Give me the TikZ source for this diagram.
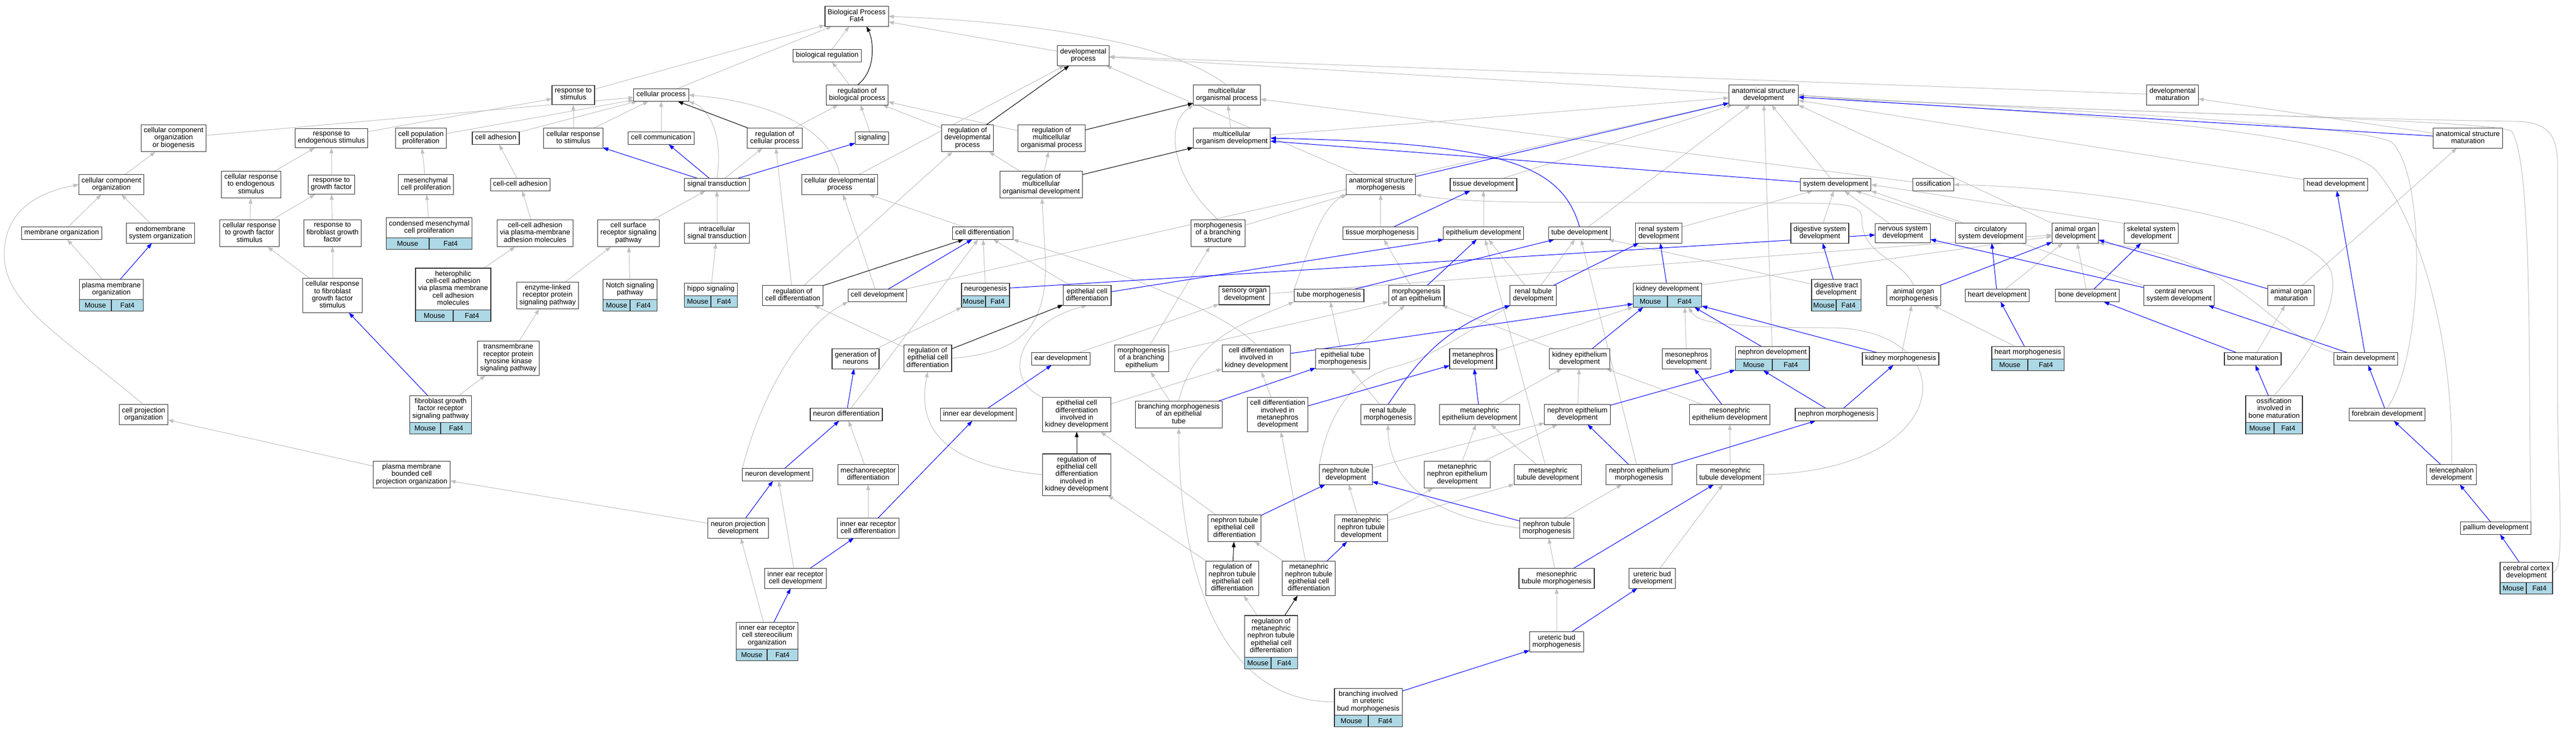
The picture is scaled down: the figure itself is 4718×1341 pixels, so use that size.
\documentclass[tikz,border=0pt]{standalone}
\usepackage{fontspec}
\setmainfont{Liberation Sans}
\usetikzlibrary{arrows.meta,backgrounds,calc}
\definecolor{edgegray}{HTML}{C0C0C0}
\definecolor{rowblue}{HTML}{ADD8E6}
\tikzset{
  term/.style={draw=black!80, line width=1.2pt, fill=white, align=center, inner xsep=5pt, inner ysep=4.8pt, outer sep=0pt,
    font=\fontsize{13}{13.3}\selectfont, execute at begin node=\strut, execute at end node=\strut},
  generow/.style={draw=black!80, line width=1.2pt, fill=rowblue, inner sep=0pt, outer sep=0pt, minimum height=21pt,
    font=\fontsize{13}{13.3}\selectfont},
  isa/.style={draw=edgegray, line width=1pt, -{Triangle[length=10pt,width=7pt]}},
  partof/.style={draw=blue, line width=1pt, -{Triangle[length=10pt,width=7pt]}},
  regs/.style={draw=black, line width=1pt, -{Triangle[length=10pt,width=7pt]}}
}
\newcommand{\generow}[1]{%
  \path let \p1=(#1.south west), \p2=(#1.south east), \n1={(\x2-\x1)/2} in
    node[generow, minimum width=\n1, anchor=north west] (#1-m) at (#1.south west) {Mouse}
    node[generow, minimum width=\n1, anchor=north east] (#1-f) at (#1.south east) {Fat4};}

\begin{document}
\begin{tikzpicture}[x=1pt,y=-1pt]
\useasboundingbox (0,0) rectangle (4718,1341);

\node[term] (bp) at (1569,30) {Biological Process\\Fat4};
\node[term] (bioreg) at (1515,102) {biological regulation};
\node[term] (devproc) at (1984,102) {developmental\\process};
\node[term] (respstim) at (1050,174) {response to\\stimulus};
\node[term] (cellproc) at (1211,174) {cellular process};
\node[term] (regbio) at (1570,174) {regulation of\\biological process};
\node[term] (multiproc) at (2247,174) {multicellular\\organismal process};
\node[term] (asdev) at (3230,174) {anatomical structure\\development};
\node[term] (devmat) at (3979,174) {developmental\\maturation};

\node[term] (ccob) at (318,253) {cellular component\\organization\\or biogenesis};
\node[term] (respendo) at (607,253) {response to\\endogenous stimulus};
\node[term] (cellpop) at (771,253) {cell population\\proliferation};
\node[term] (celladh) at (908,253) {cell adhesion};
\node[term] (cellresp) at (1050,253) {cellular response\\to stimulus};
\node[term] (cellcomm) at (1211,253) {cell communication};
\node[term] (regcell) at (1419,253) {regulation of\\cellular process};
\node[term] (signaling) at (1597,253) {signaling};
\node[term] (regdev) at (1772,253) {regulation of\\developmental\\process};
\node[term] (regmulti) at (1926,253) {regulation of\\multicellular\\organismal process};
\node[term] (modev) at (2256,253) {multicellular\\organism development};
\node[term] (asmat) at (4520,253) {anatomical structure\\maturation};

\node[term] (cco) at (204,338) {cellular component\\organization};
\node[term] (crendo) at (460,338) {cellular response\\to endogenous\\stimulus};
\node[term] (respgf) at (607,338) {response to\\growth factor};
\node[term] (mesprol) at (780,338) {mesenchymal\\cell proliferation};
\node[term] (ccadh) at (953,338) {cell-cell adhesion};
\node[term] (sigtrans) at (1313,338) {signal transduction};
\node[term] (celldevproc) at (1538,338) {cellular developmental\\process};
\node[term] (regmodev) at (1907,338) {regulation of\\multicellular\\organismal development};
\node[term] (asmorph) at (2529,338) {anatomical structure\\morphogenesis};
\node[term] (tissdev) at (2717,338) {tissue development};
\node[term] (sysdev) at (3362,338) {system development};
\node[term] (ossif) at (3541,338) {ossification};
\node[term] (headdev) at (4278,338) {head development};

\node[term] (memorg) at (113,427) {membrane organization};
\node[term] (endoorg) at (294,427) {endomembrane\\system organization};
\node[term] (crgf) at (457,427) {cellular response\\to growth factor\\stimulus};
\node[term] (respfgf) at (609,427) {response to\\fibroblast growth\\factor};
\node[term] (condmes) at (786,417) {condensed mesenchymal\\cell proliferation}; \generow{condmes}
\node[term] (ccadhpm) at (980,427) {cell-cell adhesion\\via plasma-membrane\\adhesion molecules};
\node[term] (csrsp) at (1151,427) {cell surface\\receptor signaling\\pathway};
\node[term] (intrasig) at (1313,427) {intracellular\\signal transduction};
\node[term] (celldiff) at (1800,427) {cell differentiation};
\node[term] (morphbranch) at (2231,427) {morphogenesis\\of a branching\\structure};
\node[term] (tissmorph) at (2528,427) {tissue morphogenesis};
\node[term] (epidev) at (2717,427) {epithelium development};
\node[term] (tubedev) at (2893,427) {tube development};
\node[term] (renalsys) at (3038,427) {renal system\\development};
\node[term] (digsys) at (3333,427) {digestive system\\development};
\node[term] (nervsys) at (3485,427) {nervous system\\development};
\node[term] (circsys) at (3646,427) {circulatory\\system development};
\node[term] (organdev) at (3801,427) {animal organ\\development};
\node[term] (skeldev) at (3940,427) {skeletal system\\development};

\node[term] (pmorg) at (204,530) {plasma membrane\\organization}; \generow{pmorg}
\node[term] (crfgf) at (609,541) {cellular response\\to fibroblast\\growth factor\\stimulus};
\node[term] (hetero) at (830,529) {heterophilic\\cell-cell adhesion\\via plasma membrane\\cell adhesion\\molecules}; \generow{hetero}
\node[term] (enzyme) at (1003,541) {enzyme-linked\\receptor protein\\signaling pathway};
\node[term] (notch) at (1154,530) {Notch signaling\\pathway}; \generow{notch}
\node[term] (hippo) at (1302,530) {hippo signaling}; \generow{hippo}
\node[term] (regcelldiff) at (1452,541) {regulation of\\cell differentiation};
\node[term] (celldev) at (1607,541) {cell development};
\node[term] (neurogen) at (1805,530) {neurogenesis}; \generow{neurogen}
\node[term] (epicelldiff) at (1991,541) {epithelial cell\\differentiation};
\node[term] (sensory) at (2279,541) {sensory organ\\development};
\node[term] (tubemorph) at (2434,541) {tube morphogenesis};
\node[term] (epimorph) at (2594,541) {morphogenesis\\of an epithelium};
\node[term] (renaltub) at (2808,541) {renal tubule\\development};
\node[term] (kidneydev) at (3054,530) {kidney development}; \generow{kidneydev}
\node[term] (digtract) at (3363,530) {digestive tract\\development}; \generow{digtract}
\node[term] (organmorph) at (3505,541) {animal organ\\morphogenesis};
\node[term] (heartdev) at (3658,541) {heart development};
\node[term] (bonedev) at (3823,541) {bone development};
\node[term] (cnsdev) at (3991,541) {central nervous\\system development};
\node[term] (organmat) at (4196,541) {animal organ\\maturation};

\node[term] (trkpath) at (931,656) {transmembrane\\receptor protein\\tyrosine kinase\\signaling pathway};
\node[term] (genneur) at (1567,657) {generation of\\neurons};
\node[term] (regepidiff) at (1699,656) {regulation of\\epithelial cell\\differentiation};
\node[term] (eardev) at (1943,657) {ear development};
\node[term] (morphbrepi) at (2091,656) {morphogenesis\\of a branching\\epithelium};
\node[term] (cdkidney) at (2301,656) {cell differentiation\\involved in\\kidney development};
\node[term] (epitubemorph) at (2459,657) {epithelial tube\\morphogenesis};
\node[term] (metadev) at (2698,657) {metanephros\\development};
\node[term] (kidepidev) at (2893,657) {kidney epithelium\\development};
\node[term] (mesodev) at (3089,657) {mesonephros\\development};
\node[term] (nephdev) at (3246,646) {nephron development}; \generow{nephdev}
\node[term] (kidmorph) at (3481,657) {kidney morphogenesis};
\node[term] (heartmorph) at (3714,646) {heart morphogenesis}; \generow{heartmorph}
\node[term] (bonemat) at (4126,657) {bone maturation};
\node[term] (braindev) at (4333,657) {brain development};

\node[term] (fgfr) at (807,749) {fibroblast growth\\factor receptor\\signaling pathway}; \generow{fgfr}
\node[term] (cellproj) at (263,759) {cell projection\\organization};
\node[term] (neurdiff) at (1550,759) {neuron differentiation};
\node[term] (innerear) at (1792,759) {inner ear development};
\node[term] (ecdkidney) at (1972,759) {epithelial cell\\differentiation\\involved in\\kidney development};
\node[term] (brepitube) at (2159,759) {branching morphogenesis\\of an epithelial\\tube};
\node[term] (cdmeta) at (2340,759) {cell differentiation\\involved in\\metanephros\\development};
\node[term] (renaltubmorph) at (2542,759) {renal tubule\\morphogenesis};
\node[term] (metaepidev) at (2710,759) {metanephric\\epithelium development};
\node[term] (nephepidev) at (2889,759) {nephron epithelium\\development};
\node[term] (mesoepidev) at (3168,759) {mesonephric\\epithelium development};
\node[term] (nephmorph) at (3363,759) {nephron morphogenesis};
\node[term] (ossbone) at (4165,749) {ossification\\involved in\\bone maturation}; \generow{ossbone}
\node[term] (forebrain) at (4372,759) {forebrain development};

\node[term] (pmbcp) at (754,869) {plasma membrane\\bounded cell\\projection organization};
\node[term] (neurdev) at (1424,869) {neuron development};
\node[term] (mechano) at (1590,869) {mechanoreceptor\\differentiation};
\node[term] (regecdk) at (1972,869) {regulation of\\epithelial cell\\differentiation\\involved in\\kidney development};
\node[term] (nephtubdev) at (2465,869) {nephron tubule\\development};
\node[term] (metanephepi) at (2669,869) {metanephric\\nephron epithelium\\development};
\node[term] (metatubdev) at (2835,869) {metanephric\\tubule development};
\node[term] (nephepimorph) at (3002,869) {nephron epithelium\\morphogenesis};
\node[term] (mesotubdev) at (3169,869) {mesonephric\\tubule development};
\node[term] (telen) at (4490,869) {telencephalon\\development};

\node[term] (neurproj) at (1352,967) {neuron projection\\development};
\node[term] (iercdiff) at (1590,967) {inner ear receptor\\cell differentiation};
\node[term] (ntecd) at (2261,967) {nephron tubule\\epithelial cell\\differentiation};
\node[term] (metanephtub) at (2493,967) {metanephric\\nephron tubule\\development};
\node[term] (nephtubmorph) at (2833,967) {nephron tubule\\morphogenesis};
\node[term] (pallium) at (4571,967) {pallium development};

\node[term] (iercdev) at (1457,1059) {inner ear receptor\\cell development};
\node[term] (regntecd) at (2257,1059) {regulation of\\nephron tubule\\epithelial cell\\differentiation};
\node[term] (mntecd) at (2397,1059) {metanephric\\nephron tubule\\epithelial cell\\differentiation};
\node[term] (mesotubmorph) at (2851,1059) {mesonephric\\tubule morphogenesis};
\node[term] (ubdev) at (3026,1059) {ureteric bud\\development};
\node[term] (cerebral) at (4627,1048) {cerebral cortex\\development}; \generow{cerebral}

\node[term] (stereo) at (1405,1164) {inner ear receptor\\cell stereocilium\\organization}; \generow{stereo}
\node[term] (regmntecd) at (2328,1165) {regulation of\\metanephric\\nephron tubule\\epithelial cell\\differentiation}; \generow{regmntecd}
\node[term] (ubmorph) at (2851,1175) {ureteric bud\\morphogenesis};
\node[term] (branchub) at (2506,1285) {branching involved\\in ureteric\\bud morphogenesis}; \generow{branchub}

\begin{scope}[on background layer]
\fill[white] (0,0) rectangle (4718,1341);
% is_a
\draw[isa] (bioreg) -- (bp);
\draw[isa] (devproc) -- (bp);
\draw[isa] (respstim) -- (bp);
\draw[isa] (cellproc) -- (bp);
\draw[isa] (multiproc.north) .. controls (2150,80) and (1900,40) .. (bp.east);
\draw[isa] (regbio) -- (bioreg);
\draw[isa] (asdev) -- (devproc);
\draw[isa] (devmat) -- (devproc);
\draw[isa] (celldevproc) -- (devproc);
\draw[isa] (asmorph) -- (devproc);
\draw[isa] (ccob) -- (cellproc);
\draw[isa] (cellpop) -- (cellproc);
\draw[isa] (celladh) -- (cellproc);
\draw[isa] (cellresp) -- (cellproc);
\draw[isa] (cellcomm) -- (cellproc);
\draw[isa] (sigtrans.north) .. controls (1325,250) and (1300,200) .. (cellproc.south east);
\draw[isa] (celldevproc.north) .. controls (1520,230) and (1400,185) .. (cellproc.east);
\draw[isa] (respendo) -- (respstim);
\draw[isa] (cellresp) -- (respstim);
\draw[isa] (regcell) -- (regbio);
\draw[isa] (signaling) -- (regbio);
\draw[isa] (regdev) -- (regbio);
\draw[isa] (regmulti) -- (regbio);
\draw[isa] (modev) -- (multiproc);
\draw[isa] (ossif) -- (multiproc);
\draw[isa] (morphbranch.north) .. controls (2150,330) and (2130,230) .. (multiproc.south west);
\draw[isa] (modev) -- (asdev);
\draw[isa] (tissdev) -- (asdev);
\draw[isa] (sysdev) -- (asdev);
\draw[isa] (tubedev) -- (asdev);
\draw[isa] (organdev.north west) -- (asdev.south east);
\draw[isa] (headdev) -- (asdev);
\draw[isa] (celldev) -- (asdev);
\draw[isa] (nephdev) -- (asdev);
\draw[isa] (forebrain.north) .. controls (4440,650) and (4445,320) .. (4380,260) .. controls (4300,220) and (3500,190) .. (asdev.east);
\draw[isa] (telen.north) .. controls (4495,620) and (4430,400) .. (4350,310) .. controls (4250,220) and (3550,200) .. (asdev.east);
\draw[isa] (pallium.north east) .. controls (4630,700) and (4640,300) .. (4600,240) .. controls (4550,215) and (3600,200) .. (asdev.east);
\draw[isa] (cerebral.east) .. controls (4700,1045) and (4684,900) .. (4684,700) -- (4684,300) .. controls (4684,240) and (4660,222) .. (4600,222) .. controls (4300,218) and (3600,195) .. (asdev.east);
\draw[isa] (asmat) -- (devmat);
\draw[isa] (cco) -- (ccob);
\draw[isa] (crendo) -- (respendo);
\draw[isa] (respgf) -- (respendo);
\draw[isa] (mesprol) -- (cellpop);
\draw[isa] (ccadh) -- (celladh);
\draw[isa] (sigtrans) -- (regcell);
\draw[isa] (regcelldiff) -- (regcell);
\draw[isa] (regmodev) -- (regdev);
\draw[isa] (regmodev) -- (regmulti);
\draw[isa] (regcelldiff) -- (regdev);
\draw[isa] (regepidiff.east) .. controls (1890,645) and (1915,580) .. (1915,480) -- (regmodev);
\draw[isa] (morphbranch) -- (asmorph);
\draw[isa] (tissmorph) -- (asmorph);
\draw[isa] (tubemorph.north west) .. controls (2400,450) and (2420,380) .. (asmorph.south west);
\draw[isa] (organmorph.north) .. controls (3480,470) and (3410,470) .. (3410,400) .. controls (3410,375) and (3380,372) .. (3300,372) -- (2800,370) .. controls (2700,370) and (2620,362) .. (asmorph.south east);
\draw[isa] (epidev) -- (tissdev);
\draw[isa] (renalsys) -- (sysdev);
\draw[isa] (digsys) -- (sysdev);
\draw[isa] (nervsys) -- (sysdev);
\draw[isa] (circsys) -- (sysdev);
\draw[isa] (skeldev.north west) -- (sysdev.east);
\draw[isa] (cnsdev.north west) -- (sysdev.south east);
\draw[isa] (memorg) -- (cco);
\draw[isa] (endoorg) -- (cco);
\draw[isa] (cellproj.north) .. controls (120,620) and (10,560) .. (8,470) .. controls (5,380) and (80,350) .. (cco.west);
\draw[isa] (crgf) -- (crendo);
\draw[isa] (crgf) -- (respgf);
\draw[isa] (respfgf) -- (respgf);
\draw[isa] (condmes) -- (mesprol);
\draw[isa] (ccadhpm) -- (ccadh);
\draw[isa] (csrsp) -- (sigtrans);
\draw[isa] (intrasig) -- (sigtrans);
\draw[isa] (celldiff) -- (celldevproc);
\draw[isa] (celldev) -- (celldevproc);
\draw[isa] (epimorph) -- (tissmorph);
\draw[isa] (renaltub) -- (epidev);
\draw[isa] (renaltub) -- (tubedev);
\draw[isa] (metatubdev) -- (epidev);
\draw[isa] (nephepimorph) -- (tubedev);
\draw[isa] (digtract) -- (tubedev);
\draw[isa] (kidneydev) -- (organdev);
\draw[isa] (sensory) -- (organdev);
\draw[isa] (heartdev) -- (organdev);
\draw[isa] (bonedev) -- (organdev);
\draw[isa] (braindev.north west) .. controls (4150,610) and (4110,470) .. (organdev.south east);
\draw[isa] (pmorg) -- (memorg);
\draw[isa] (crfgf) -- (crgf);
\draw[isa] (crfgf) -- (respfgf);
\draw[isa] (hetero) -- (ccadhpm);
\draw[isa] (enzyme) -- (csrsp);
\draw[isa] (notch) -- (csrsp);
\draw[isa] (hippo) -- (intrasig);
\draw[isa] (neurogen) -- (celldiff);
\draw[isa] (epicelldiff) -- (celldiff);
\draw[isa] (cdkidney.north) .. controls (2230,560) and (2000,480) .. (celldiff.south east);
\draw[isa] (neurdiff) -- (celldiff);
\draw[isa] (regepidiff) -- (regcelldiff);
\draw[isa] (epitubemorph) -- (tubemorph);
\draw[isa] (brepitube.north) .. controls (2185,620) and (2280,590) .. (tubemorph.south west);
\draw[isa] (epitubemorph) -- (epimorph);
\draw[isa] (morphbrepi) -- (epimorph);
\draw[isa] (kidepidev) -- (epimorph);
\draw[isa] (metadev) -- (kidneydev-m);
\draw[isa] (mesodev) -- (kidneydev-f);
\draw[isa] (mesotubdev.east) .. controls (3590,860) and (3600,600) .. (3350,600) .. controls (3150,600) and (3110,590) .. (kidneydev-f);
\draw[isa] (kidmorph) -- (organmorph);
\draw[isa] (heartmorph) -- (organmorph);
\draw[isa] (bonemat) -- (organmat);
\draw[isa] (organmat) -- (asmat);
\draw[isa] (ossbone.north) .. controls (4230,650) and (4285,560) .. (4270,500) .. controls (4250,420) and (3900,345) .. (ossif.east);
\draw[isa] (trkpath) -- (enzyme);
\draw[isa] (fgfr) -- (trkpath);
\draw[isa] (genneur) -- (neurogen-m);
\draw[isa] (eardev) -- (sensory);
\draw[isa] (morphbrepi) -- (morphbranch);
\draw[isa] (ecdkidney.north west) .. controls (1830,690) and (1870,590) .. (epicelldiff.south);
\draw[isa] (ecdkidney) -- (cdkidney);
\draw[isa] (cdmeta) -- (cdkidney);
\draw[isa] (regecdk.west) .. controls (1720,850) and (1680,780) .. (regepidiff.south);
\draw[isa] (brepitube) -- (morphbrepi);
\draw[isa] (branchub.west) .. controls (2218,1285) and (2159,1010) .. (brepitube.south);
\draw[isa] (renaltubmorph) -- (epitubemorph);
\draw[isa] (metaepidev) -- (kidepidev);
\draw[isa] (nephepidev) -- (kidepidev);
\draw[isa] (mesoepidev) -- (kidepidev);
\draw[isa] (neurdev.north west) .. controls (1400,700) and (1480,590) .. (celldev.south west);
\draw[isa] (mechano) -- (neurdiff);
\draw[isa] (pmbcp) -- (cellproj);
\draw[isa] (neurproj) -- (pmbcp);
\draw[isa] (iercdiff) -- (mechano);
\draw[isa] (iercdev) -- (neurdev);
\draw[isa] (stereo) -- (neurproj);
\draw[isa] (nephtubdev.north west) .. controls (2430,770) and (2470,690) .. (2560,670) .. controls (2620,655) and (2700,600) .. (renaltub.south west);
\draw[isa] (nephtubdev) -- (nephepidev);
\draw[isa] (metanephepi) -- (metaepidev);
\draw[isa] (metanephepi) -- (nephepidev);
\draw[isa] (metatubdev) -- (metaepidev);
\draw[isa] (mesotubdev) -- (mesoepidev);
\draw[isa] (metanephtub) -- (nephtubdev);
\draw[isa] (metanephtub) -- (metanephepi);
\draw[isa] (metanephtub) -- (metatubdev);
\draw[isa] (nephtubmorph) -- (nephepimorph);
\draw[isa] (nephtubmorph.west) .. controls (2650,950) and (2545,900) .. (renaltubmorph.south);
\draw[isa] (mesotubmorph) -- (nephtubmorph);
\draw[isa] (ubdev) -- (mesotubdev);
\draw[isa] (ubmorph) -- (mesotubmorph);
\draw[isa] (ntecd) -- (ecdkidney);
\draw[isa] (regntecd) -- (regecdk);
\draw[isa] (mntecd) -- (ntecd);
\draw[isa] (mntecd) -- (cdmeta);
\draw[isa] (regmntecd) -- (regntecd);
% part_of
\draw[partof] (asmorph) -- (asdev);
\draw[partof] (asmat) -- (asdev);
\draw[partof] (sysdev) -- (modev);
\draw[partof] (tubedev.north) .. controls (2860,300) and (2750,262) .. (modev.east);
\draw[partof] (tissmorph) -- (tissdev);
\draw[partof] (sigtrans) -- (cellresp);
\draw[partof] (sigtrans) -- (cellcomm);
\draw[partof] (sigtrans) -- (signaling);
\draw[partof] (pmorg) -- (endoorg);
\draw[partof] (fgfr) -- (crfgf);
\draw[partof] (celldev) -- (celldiff);
\draw[partof] (neurogen) -- (nervsys);
\draw[partof] (epicelldiff) -- (epidev);
\draw[partof] (epimorph) -- (epidev);
\draw[partof] (tubemorph) -- (tubedev);
\draw[partof] (renaltub) -- (renalsys);
\draw[partof] (kidneydev) -- (renalsys);
\draw[partof] (digtract) -- (digsys);
\draw[partof] (organmorph) -- (organdev);
\draw[partof] (heartdev) -- (circsys);
\draw[partof] (bonedev) -- (skeldev);
\draw[partof] (cnsdev) -- (nervsys);
\draw[partof] (organmat) -- (organdev);
\draw[partof] (cdkidney) -- (kidneydev-m);
\draw[partof] (kidepidev) -- (kidneydev-m);
\draw[partof] (nephdev) -- (kidneydev-f);
\draw[partof] (kidmorph) -- (kidneydev-f);
\draw[partof] (heartmorph) -- (heartdev);
\draw[partof] (bonemat) -- (bonedev);
\draw[partof] (braindev) -- (cnsdev);
\draw[partof] (braindev) -- (headdev);
\draw[partof] (ossbone) -- (bonemat);
\draw[partof] (forebrain) -- (braindev);
\draw[partof] (telen) -- (forebrain);
\draw[partof] (pallium) -- (telen);
\draw[partof] (cerebral) -- (pallium);
\draw[partof] (neurdiff) -- (genneur);
\draw[partof] (neurdev) -- (neurdiff);
\draw[partof] (neurproj) -- (neurdev);
\draw[partof] (iercdiff) -- (innerear);
\draw[partof] (iercdev) -- (iercdiff);
\draw[partof] (stereo) -- (iercdev);
\draw[partof] (innerear) -- (eardev);
\draw[partof] (brepitube) -- (epitubemorph);
\draw[partof] (cdmeta) -- (metadev);
\draw[partof] (renaltubmorph.north) .. controls (2590,670) and (2640,600) .. (renaltub.south west);
\draw[partof] (metaepidev) -- (metadev);
\draw[partof] (nephepidev) -- (nephdev-m);
\draw[partof] (mesoepidev) -- (mesodev);
\draw[partof] (nephmorph) -- (nephdev-m);
\draw[partof] (nephmorph) -- (kidmorph);
\draw[partof] (ntecd) -- (nephtubdev);
\draw[partof] (nephtubmorph) -- (nephtubdev);
\draw[partof] (nephepimorph) -- (nephepidev);
\draw[partof] (nephepimorph) -- (nephmorph);
\draw[partof] (mesotubmorph) -- (mesotubdev);
\draw[partof] (mntecd) -- (metanephtub);
\draw[partof] (ubmorph) -- (ubdev);
\draw[partof] (branchub) -- (ubmorph);
% regulates
\draw[regs] (regbio.north) .. controls (1605,130) and (1600,75) .. ([xshift=18pt]bp.south);
\draw[regs] (regcell) -- (cellproc);
\draw[regs] (regdev) -- (devproc);
\draw[regs] (regmulti) -- (multiproc);
\draw[regs] (regmodev) -- (modev);
\draw[regs] (regcelldiff) -- (celldiff);
\draw[regs] (regepidiff) -- (epicelldiff);
\draw[regs] (regecdk) -- (ecdkidney);
\draw[regs] (regntecd) -- (ntecd);
\draw[regs] (regmntecd) -- (mntecd);
\end{scope}
\end{tikzpicture}
\end{document}
